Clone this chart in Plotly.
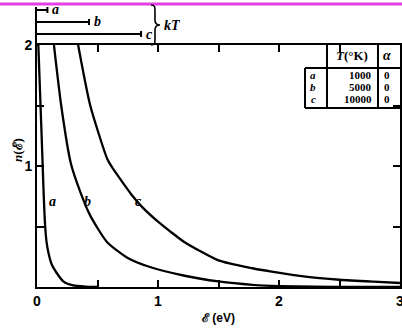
import plotly.graph_objects as go

# ---- data ----
E_a = [0.011, 0.023, 0.035, 0.047, 0.057, 0.067, 0.078, 0.095, 0.12, 0.16, 0.22, 0.30, 0.40, 0.50]
n_a = [2.0, 1.67, 1.34, 1.0, 0.72, 0.51, 0.38, 0.28, 0.19, 0.12, 0.045, 0.013, 0.003, 0.0]

E_b = [0.14, 0.20, 0.28, 0.36, 0.44, 0.58, 0.75, 0.94, 1.22, 1.50, 1.78, 2.0, 2.3, 2.6, 3.0]
n_b = [2.0, 1.5, 1.02, 0.78, 0.59, 0.37, 0.24, 0.163, 0.093, 0.046, 0.018, 0.007, 0.002, 0.0, 0.0]

E_c = [0.34, 0.44, 0.58, 0.62, 0.70, 0.78, 0.87, 1.0, 1.1, 1.22, 1.50, 1.78, 1.94, 2.22, 2.50, 2.78, 3.0]
n_c = [2.0, 1.5, 1.06, 0.99, 0.875, 0.765, 0.66, 0.54, 0.46, 0.37, 0.22, 0.155, 0.127, 0.085, 0.06, 0.044, 0.033]

curve_names = ["a", "b", "c"]
label_E = [0.124, 0.42, 0.84]
label_n = [0.71, 0.71, 0.71]

kT_values = [0.086, 0.43, 0.86]
temps = ["1000", "5000", "10000"]
alphas = ["0", "0", "0"]

x_ticks = [0, 0.5, 1, 1.5, 2, 2.5, 3]
x_ticktext = ["0", "", "1", "", "2", "", "3"]
y_ticks = [0, 0.5, 1, 1.5, 2]
y_ticktext = ["", "", "1", "", "2"]

# ---- geometry helpers (pixel -> paper) ----
W, H = 402, 330
ML, MR, MT, MB = 37, 2, 45, 43
PW, PH = W - ML - MR, H - MT - MB


def px(x):
    return (x - ML) / PW


def py(y):
    return (H - MB - y) / PH


fig = go.Figure()
for E, n in [(E_a, n_a), (E_b, n_b), (E_c, n_c)]:
    fig.add_trace(go.Scatter(x=E, y=n, mode="lines",
                             line=dict(color="black", width=2.3, shape="spline", smoothing=0.6),
                             hoverinfo="skip", showlegend=False))

serif = "Liberation Serif"
sans = "Liberation Sans"
shapes = []
ann = []


def note(x, y, text, size=12, family=serif, xanchor="center", xref="paper", yref="paper", **kw):
    d = dict(x=x, y=y, xref=xref, yref=yref, text=text, showarrow=False, xanchor=xanchor,
             yanchor="middle", font=dict(family=family, size=size, color="black"))
    d.update(kw)
    ann.append(d)


# curve labels
for name, xe, yn in zip(curve_names, label_E, label_n):
    note(xe, yn, f"<b><i>{name}</i></b>", size=14, xref="x", yref="y")

# magenta line at top
shapes.append(dict(type="line", xref="paper", yref="paper", x0=px(-5), x1=px(410), y0=py(4), y1=py(4),
                   line=dict(color="#e43fe4", width=3)))

# kT bars
shapes.append(dict(type="line", xref="paper", yref="paper", x0=px(36), x1=px(36), y0=py(7), y1=py(45),
                   line=dict(color="black", width=2)))
bar_y = [10, 22, 34]
for name, kT, yb in zip(curve_names, kT_values, bar_y):
    shapes.append(dict(type="line", xref="x domain", yref="paper", x0=0, x1=kT / 3, y0=py(yb), y1=py(yb),
                       line=dict(color="black", width=2)))
    shapes.append(dict(type="line", xref="x domain", yref="paper", x0=kT / 3, x1=kT / 3,
                       y0=py(yb - 3), y1=py(yb + 3), line=dict(color="black", width=2)))
    note(kT / 3, py(yb), f"<b><i>{name}</i></b>", size=14, xref="x domain", xanchor="left", xshift=3)

# brace (pixel path anchored at its left-middle) and kT
brace = "M0,20 C4,20 4,18 4,14 L4,5 C4,1 6,0 9,0 C6,0 4,-1 4,-5 L4,-14 C4,-18 4,-20 0,-20"
shapes.append(dict(type="path", xref="paper", yref="paper", xsizemode="pixel", ysizemode="pixel",
                   xanchor=px(151), yanchor=py(25), path=brace, line=dict(color="black", width=1.6)))
note(px(162), py(25), "<b><i>kT</i></b>", size=14, xanchor="left")

# table
tl = dict(color="black", width=2)
tb = 108
shapes += [
    dict(type="line", xref="paper", yref="paper", x0=px(327), x1=px(327), y0=py(45), y1=py(tb), line=tl),
    dict(type="line", xref="paper", yref="paper", x0=px(378), x1=px(378), y0=py(45), y1=py(tb), line=tl),
    dict(type="line", xref="paper", yref="paper", x0=px(305), x1=px(305), y0=py(68), y1=py(tb), line=tl),
    dict(type="line", xref="paper", yref="paper", x0=px(305), x1=px(400), y0=py(68), y1=py(68), line=tl),
    dict(type="line", xref="paper", yref="paper", x0=px(305), x1=px(400), y0=py(tb), y1=py(tb), line=tl),
]
note(px(352), py(56), "<b><i>T</i>(°K)</b>", size=13)
note(px(387), py(56), "<b><i>α</i></b>", size=14)
row_y = [75, 87, 99]
tight = dict(height=10, borderpad=0, borderwidth=0)
for name, t, a, ry in zip(curve_names, temps, alphas, row_y):
    note(px(313), py(ry), f"<b><i>{name}</i></b>", size=11, **tight)
    note(px(372), py(ry), f"<b>{t}</b>", size=11, xanchor="right", **tight)
    note(px(387), py(ry), f"<b>{a}</b>", size=11, **tight)

# axis titles
note(px(17), py(150), "<b><i>n</i>(ℰ)</b>", size=13, textangle=-90)
note(px(218), py(318), "<b>ℰ (eV)</b>", size=12, family=sans)

axis_common = dict(showgrid=False, zeroline=False, showline=True, linewidth=2, linecolor="black",
                   mirror="ticks", ticks="inside", ticklen=7, tickwidth=1.5, tickcolor="black",
                   automargin=False, ticklabeloverflow="allow",
                   tickfont=dict(family=sans, size=14, color="black", weight="bold"))

fig.update_layout(
    width=W, height=H, margin=dict(l=ML, r=MR, t=MT, b=MB, autoexpand=False),
    paper_bgcolor="white", plot_bgcolor="white",
    xaxis=dict(range=[0, 3], tickmode="array", tickvals=x_ticks, ticktext=x_ticktext, **axis_common),
    yaxis=dict(range=[0, 2], tickmode="array", tickvals=y_ticks, ticktext=y_ticktext, **axis_common),
    shapes=shapes, annotations=ann,
)

fig.write_html("out.html", config={"displayModeBar": False},
               post_script="document.body.style.margin='0';document.body.style.overflow='hidden';")
